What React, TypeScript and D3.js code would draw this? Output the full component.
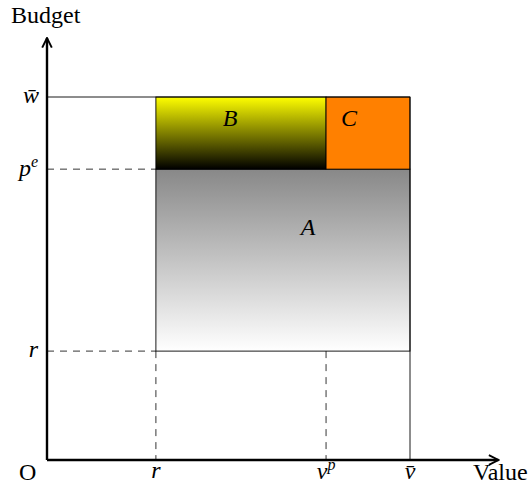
import React from 'react';
import * as d3 from 'd3';

// axis extents (data units, both axes share the same unit)
const xAxisMax = 0.995;
const yAxisMax = 0.93;

// positions of the marked values
const xMarks = [
  { key: 'r', value: 0.24 },
  { key: 'vp', value: 0.615 },
  { key: 'vbar', value: 0.8 },
];
const yMarks = [
  { key: 'wbar', value: 0.8 },
  { key: 'pe', value: 0.641 },
  { key: 'r', value: 0.24 },
];

// regions in data units
const regionA = { name: 'A', x0: 0.24, x1: 0.8, y0: 0.24, y1: 0.641 };
const regionB = { name: 'B', x0: 0.24, x1: 0.615, y0: 0.641, y1: 0.8 };
const regionC = { name: 'C', x0: 0.615, x1: 0.8, y0: 0.641, y1: 0.8 };

const width = 530;
const height = 495;
const font = '"Liberation Serif", "Times New Roman", serif';

export default function App() {
  const x = d3.scaleLinear().domain([0, 1]).range([47, 47 + 453.75]);
  const y = d3.scaleLinear().domain([0, 1]).range([460, 460 - 453.75]);

  const xv = (k: string) => xMarks.find((d) => d.key === k)!.value;
  const yv = (k: string) => yMarks.find((d) => d.key === k)!.value;

  const rect = (r: typeof regionA, fill: string) => (
    <rect
      x={x(r.x0)}
      y={y(r.y1)}
      width={x(r.x1) - x(r.x0)}
      height={y(r.y0) - y(r.y1)}
      fill={fill}
      stroke="#000"
      strokeWidth={0.9}
    />
  );

  const mathLabel = { fontFamily: font, fontStyle: 'italic', fontSize: 24 } as const;

  return (
    <svg
      width={width}
      height={height}
      style={{ position: 'absolute', left: 0, top: 0, background: '#fff' }}
    >
      <defs>
        <linearGradient id="gradA" x1="0" y1="0" x2="0" y2="1">
          <stop offset="0%" stopColor="#888" />
          <stop offset="100%" stopColor="#fff" />
        </linearGradient>
        <linearGradient id="gradB" x1="0" y1="0" x2="0" y2="1">
          <stop offset="0%" stopColor="#ffff00" />
          <stop offset="100%" stopColor="#000" />
        </linearGradient>
        <marker id="arrow" viewBox="0 0 10 10" refX="9" refY="5" markerWidth="5" markerHeight="5" orient="auto">
          <path d="M1,1 L9,5 L1,9" fill="none" stroke="#000" strokeWidth={1.6} />
        </marker>
      </defs>

      {/* regions */}
      {rect(regionA, 'url(#gradA)')}
      {rect(regionB, 'url(#gradB)')}
      {rect(regionC, '#ff8000')}

      {/* solid guide lines */}
      <line x1={x(0)} x2={x(xv('vbar'))} y1={y(yv('wbar'))} y2={y(yv('wbar'))} stroke="#000" strokeWidth={0.9} />
      <line x1={x(xv('vbar'))} x2={x(xv('vbar'))} y1={y(yv('wbar'))} y2={y(0)} stroke="#000" strokeWidth={0.9} />

      {/* dashed guide lines */}
      <g stroke="#000" strokeWidth={0.8} strokeDasharray="7,6">
        <line x1={x(0)} x2={x(regionA.x0)} y1={y(yv('pe'))} y2={y(yv('pe'))} />
        <line x1={x(0)} x2={x(regionA.x0)} y1={y(yv('r'))} y2={y(yv('r'))} />
        <line x1={x(xv('r'))} x2={x(xv('r'))} y1={y(regionA.y0)} y2={y(0)} />
        <line x1={x(xv('vp'))} x2={x(xv('vp'))} y1={y(regionA.y0)} y2={y(0)} />
      </g>

      {/* axes */}
      <line x1={x(0)} x2={x(xAxisMax)} y1={y(0)} y2={y(0)} stroke="#000" strokeWidth={2.4} markerEnd="url(#arrow)" />
      <line x1={x(0)} x2={x(0)} y1={y(0)} y2={y(yAxisMax)} stroke="#000" strokeWidth={2.4} markerEnd="url(#arrow)" />

      {/* axis titles */}
      <text x={11} y={23} fontFamily={font} fontSize={24}>Budget</text>
      <text x={473} y={480} fontFamily={font} fontSize={24}>Value</text>
      <text x={19} y={480} fontFamily={font} fontSize={24}>O</text>

      {/* y tick labels */}
      <g {...mathLabel} textAnchor="end">
        <text x={39} y={y(yv('wbar')) + 6}>w̄</text>
        <text x={38} y={y(yv('pe')) + 7}>p<tspan dy={-9} fontSize={16}>e</tspan></text>
        <text x={38} y={y(yv('r')) + 6}>r</text>
      </g>

      {/* x tick labels */}
      <g {...mathLabel} textAnchor="middle">
        <text x={x(xv('r'))} y={478}>r</text>
        <text x={x(xv('vp'))} y={479}>v<tspan dy={-9} fontSize={16}>p</tspan></text>
        <text x={x(xv('vbar'))} y={479}>v̄</text>
      </g>

      {/* region labels */}
      <g {...mathLabel} textAnchor="middle">
        <text x={230} y={y(regionB.y1) + 29}>{regionB.name}</text>
        <text x={349} y={y(regionC.y1) + 29}>{regionC.name}</text>
        <text x={308} y={235}>{regionA.name}</text>
      </g>
    </svg>
  );
}
